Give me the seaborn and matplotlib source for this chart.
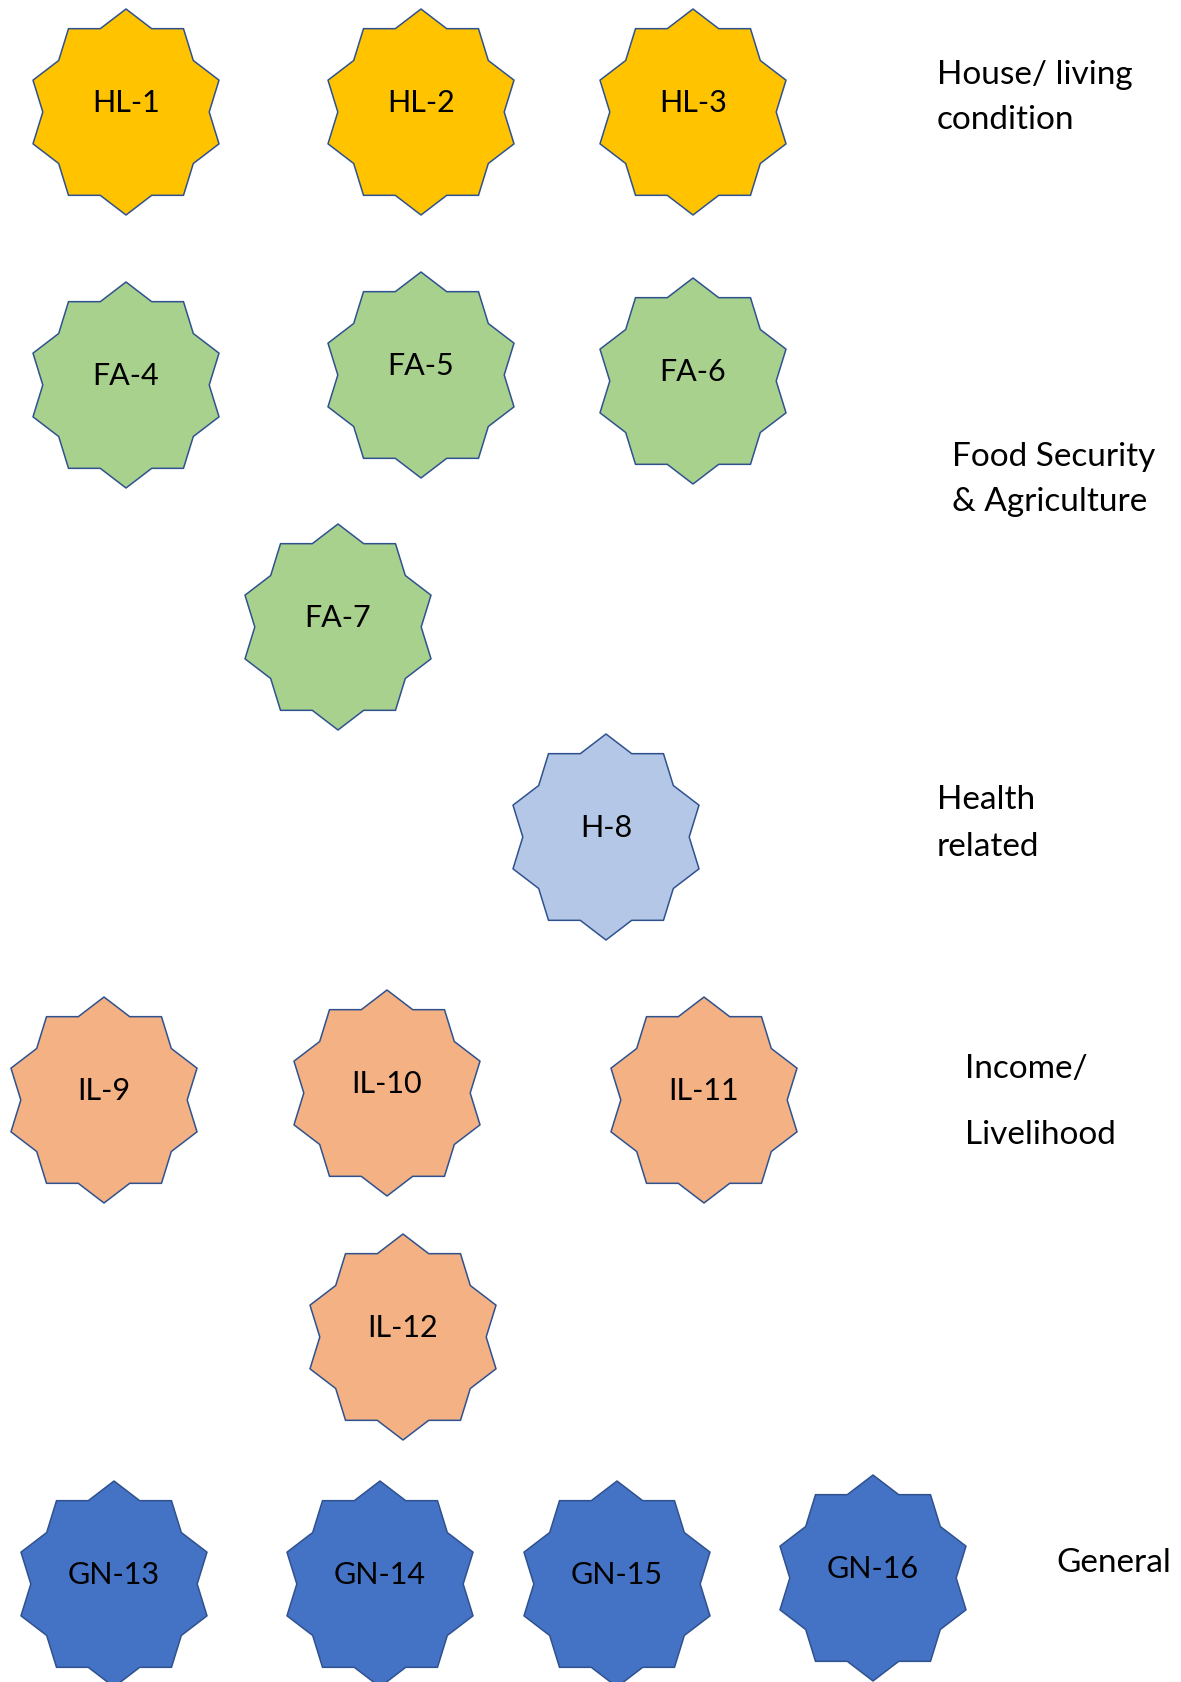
import numpy as np
import pandas as pd
import matplotlib
matplotlib.use("Agg")
import matplotlib.pyplot as plt
from matplotlib.path import Path
import seaborn as sns

# indicator codes, their theme group and where each star sits (pixels from top-left)
codes = ["HL-1", "HL-2", "HL-3",
         "FA-4", "FA-5", "FA-6", "FA-7",
         "H-8",
         "IL-9", "IL-10", "IL-11", "IL-12",
         "GN-13", "GN-14", "GN-15", "GN-16"]
groups = ["HL", "HL", "HL",
          "FA", "FA", "FA", "FA",
          "H",
          "IL", "IL", "IL", "IL",
          "GN", "GN", "GN", "GN"]
x_pos = [126, 421, 693,
         126, 421, 693, 338,
         606,
         104, 387, 704, 403,
         114, 380, 617, 873]
y_pos = [113, 113, 113,
         386, 376, 382, 628,
         838,
         1101, 1094, 1101, 1338,
         1585, 1585, 1585, 1579]

# theme captions on the right
theme_lines = ["House/ living", "condition",
               "Food Security", "& Agriculture",
               "Health", "related",
               "Income/", "Livelihood",
               "General"]
theme_x = [937, 937, 952, 952, 937, 937, 965, 965, 1056]
theme_y = [75, 120, 457, 502, 800, 847, 1069, 1135, 1563]

group_colors = {
    "HL": "#FFC300",
    "FA": "#A9D18E",
    "H": "#B4C7E7",
    "IL": "#F4B183",
    "GN": "#4472C4",
}


def star10_path(inner=0.85066, x_scale=0.9495):
    # ten point star like the office "star10" shape, a bit taller than wide
    verts = []
    for k in range(20):
        ang = np.deg2rad(k * 18)
        r = 1.0 if k % 2 == 0 else inner
        verts.append((r * x_scale * np.sin(ang), r * np.cos(ang)))
    verts.append(verts[0])
    codes_ = [Path.MOVETO] + [Path.LINETO] * 19 + [Path.CLOSEPOLY]
    return Path(verts, codes_)


df = pd.DataFrame({"code": codes, "group": groups, "x": x_pos, "y": y_pos})

sns.set_theme(style="white")
plt.rcParams["font.family"] = ["Lato", "DejaVu Sans"]

W, H = 1181, 1683
fig = plt.figure(figsize=(W / 100, H / 100), dpi=100)
ax = fig.add_axes([0, 0, 1, 1])

star_h_pt = 206 * 0.72
sns.scatterplot(data=df, x="x", y="y", hue="group", palette=group_colors,
                marker=star10_path(), s=star_h_pt ** 2,
                edgecolor="#2F528F", linewidth=1.1, legend=False, ax=ax)

for c, x, y in zip(df["code"], df["x"], df["y"]):
    ax.text(x, y - 10, c, ha="center", va="center", fontsize=22, color="black")

for t, x, y in zip(theme_lines, theme_x, theme_y):
    ax.text(x, y, t, ha="left", va="center", fontsize=24, color="black")

ax.set_xlim(0, W)
ax.set_ylim(H, 0)
ax.set_axis_off()

fig.savefig("out.png", dpi=100, facecolor="white")
